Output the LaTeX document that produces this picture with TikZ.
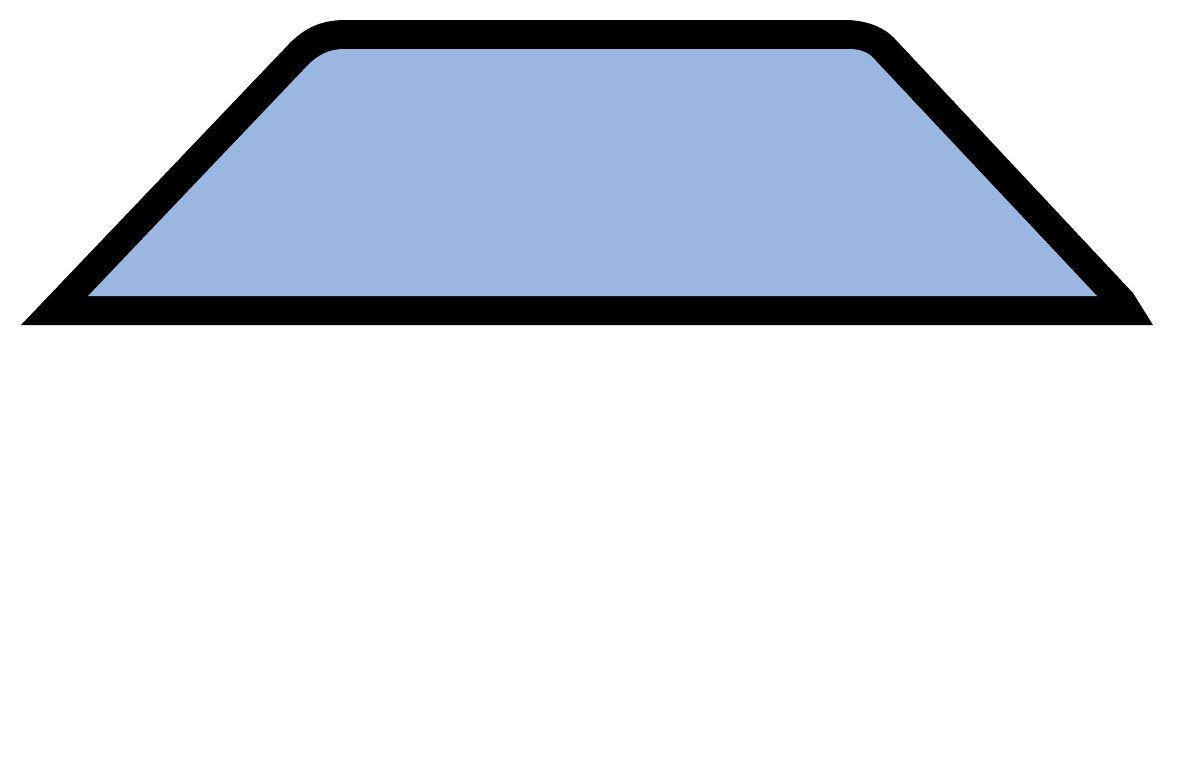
\documentclass[tikz,border=0pt]{standalone}
\usepackage{xcolor}
\usepackage{tikz}
\definecolor{trapblue}{HTML}{9BB6E0}
\definecolor{trapline}{HTML}{000000}

\begin{document}
\begin{tikzpicture}[x=1pt, y=-1pt]
    \useasboundingbox (0,0) rectangle (1183,777);
    % outer band
    \fill[trapline] (21,325) -- (288,45) .. controls (303,29) and (320,20) .. (345,20)
      -- (845,20) .. controls (866,20) and (884,27) .. (895,39)
      -- (1133,293) -- (1153,325) -- cycle;
    % inner face
    \fill[trapblue] (88,296) -- (308,65) .. controls (318,55) and (329,49) .. (344,49)
      -- (850,49) .. controls (861,49) and (870,53) .. (876,61)
      -- (1097,296) -- cycle;
  \end{tikzpicture}
\end{document}
